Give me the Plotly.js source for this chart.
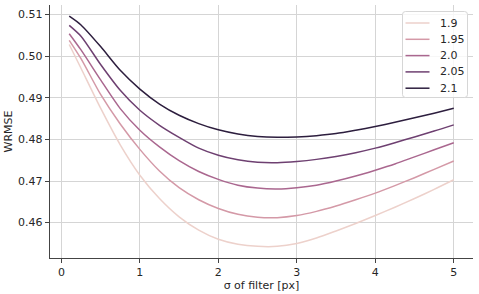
<!DOCTYPE html>
<html>
<head>
<meta charset="utf-8">
<script src="https://cdn.plot.ly/plotly-3.0.1.min.js"></script>
<style>
  html, body { margin: 0; padding: 0; background: #ffffff; }
  #chart { width: 479px; height: 294px; }
</style>
</head>
<body>
<div id="chart"></div>
<script>
// sigma of filter [px]
const sigma = [0.1, 0.25, 0.5, 0.75, 1.0, 1.25, 1.5, 1.75, 2.0, 2.25, 2.5, 2.75, 3.0, 3.25, 3.5, 3.75, 4.0, 4.25, 4.5, 4.75, 5.0];

// series labels (hue levels)
const seriesNames = ["1.9", "1.95", "2.0", "2.05", "2.1"];

// WRMSE values
const wrmse_1_9  = [0.5028, 0.4971, 0.4875, 0.4787, 0.4714, 0.4658, 0.4614, 0.4582, 0.4560, 0.4548, 0.4543, 0.4543, 0.4550, 0.4563, 0.4580, 0.4598, 0.4617, 0.4637, 0.4658, 0.4680, 0.4703];
const wrmse_1_95 = [0.5038, 0.4994, 0.4908, 0.4837, 0.4776, 0.4724, 0.4684, 0.4655, 0.4634, 0.4620, 0.4613, 0.4612, 0.4617, 0.4627, 0.4640, 0.4655, 0.4671, 0.4689, 0.4708, 0.4728, 0.4748];
const wrmse_2_0  = [0.5054, 0.5015, 0.4943, 0.4874, 0.4822, 0.4782, 0.4749, 0.4723, 0.4704, 0.4690, 0.4683, 0.4681, 0.4684, 0.4690, 0.4700, 0.4712, 0.4726, 0.4741, 0.4758, 0.4775, 0.4792];
const wrmse_2_05 = [0.5074, 0.5048, 0.4980, 0.4918, 0.4870, 0.4834, 0.4805, 0.4779, 0.4762, 0.4751, 0.4745, 0.4744, 0.4747, 0.4752, 0.4759, 0.4768, 0.4779, 0.4792, 0.4806, 0.4820, 0.4835];
const wrmse_2_1  = [0.5096, 0.5075, 0.5023, 0.4966, 0.4921, 0.4885, 0.4858, 0.4838, 0.4823, 0.4813, 0.4807, 0.4805, 0.4806, 0.4809, 0.4814, 0.4822, 0.4831, 0.4841, 0.4852, 0.4863, 0.4875];

const seriesValues = [wrmse_1_9, wrmse_1_95, wrmse_2_0, wrmse_2_05, wrmse_2_1];
const colors = ["#edd1cb", "#d499a7", "#aa678f", "#6e4071", "#2d1e3e"];

const xTicks = [0, 1, 2, 3, 4, 5];
const yTicks = [0.46, 0.47, 0.48, 0.49, 0.50, 0.51];

const traces = seriesNames.map((name, i) => ({
  type: "scatter",
  mode: "lines",
  name: name,
  x: sigma,
  y: seriesValues[i],
  line: { color: colors[i], width: 1.5, shape: "spline", smoothing: 0.7 },
  showlegend: false
}));

const font = { family: "DejaVu Sans, sans-serif", size: 11, color: "#262626" };

// legend drawn in paper coordinates (box, sample lines, labels)
const PL = 50, PW = 423, PT = 5, PH = 253;
const px2x = p => (p - PL) / PW;
const px2y = p => 1 - (p - PT) / PH;

const boxL = 402.5, boxR = 467.5, boxT = 11.5, boxB = 97.5, rad = 3;
function roundedRectPath(l, r, t, b, rr) {
  const X = px2x, Y = px2y;
  return `M ${X(l + rr)} ${Y(t)} L ${X(r - rr)} ${Y(t)} Q ${X(r)} ${Y(t)} ${X(r)} ${Y(t + rr)} ` +
         `L ${X(r)} ${Y(b - rr)} Q ${X(r)} ${Y(b)} ${X(r - rr)} ${Y(b)} ` +
         `L ${X(l + rr)} ${Y(b)} Q ${X(l)} ${Y(b)} ${X(l)} ${Y(b - rr)} ` +
         `L ${X(l)} ${Y(t + rr)} Q ${X(l)} ${Y(t)} ${X(l + rr)} ${Y(t)} Z`;
}

const shapes = [{
  type: "path", xref: "paper", yref: "paper",
  path: roundedRectPath(boxL, boxR, boxT, boxB, rad),
  fillcolor: "rgba(255,255,255,0.8)",
  line: { color: "#d6d6d6", width: 1 },
  layer: "above"
}];
const annotations = [];
const entryY0 = 23, entryDY = 16.3;
seriesNames.forEach((name, i) => {
  const yy = entryY0 + i * entryDY;
  shapes.push({
    type: "line", xref: "paper", yref: "paper",
    x0: px2x(405.5), x1: px2x(429.5), y0: px2y(yy), y1: px2y(yy),
    line: { color: colors[i], width: 1.5 }, layer: "above"
  });
  annotations.push({
    xref: "paper", yref: "paper", x: px2x(437.5), y: px2y(yy),
    xanchor: "left", yanchor: "middle", showarrow: false,
    text: name, font: font
  });
});

const layout = {
  width: 479,
  height: 294,
  margin: { l: PL, r: 479 - PL - PW, t: PT, b: 294 - PT - PH, pad: 0 },
  paper_bgcolor: "#ffffff",
  plot_bgcolor: "#ffffff",
  font: font,
  showlegend: false,
  shapes: shapes,
  annotations: annotations,
  xaxis: {
    range: [-0.145, 5.245],
    tickmode: "array",
    tickvals: xTicks,
    tickformat: "d",
    showgrid: true, gridcolor: "#d5d5d5", gridwidth: 1,
    zeroline: false,
    showline: true, linecolor: "#444444", linewidth: 1.2,
    ticks: "outside", ticklen: 4, tickwidth: 1, tickcolor: "#444444",
    title: { text: "σ of filter [px]", font: font, standoff: 0 },
    tickfont: font
  },
  yaxis: {
    range: [0.4515, 0.5123],
    tickmode: "array",
    tickvals: yTicks,
    tickformat: ".2f",
    showgrid: true, gridcolor: "#d5d5d5", gridwidth: 1,
    zeroline: false,
    showline: true, linecolor: "#444444", linewidth: 1.2,
    ticks: "outside", ticklen: 4, tickwidth: 1, tickcolor: "#444444",
    title: { text: "WRMSE", font: font, standoff: 3 },
    tickfont: font
  }
};

Plotly.newPlot("chart", traces, layout, { staticPlot: true, displayModeBar: false });
</script>
</body>
</html>
